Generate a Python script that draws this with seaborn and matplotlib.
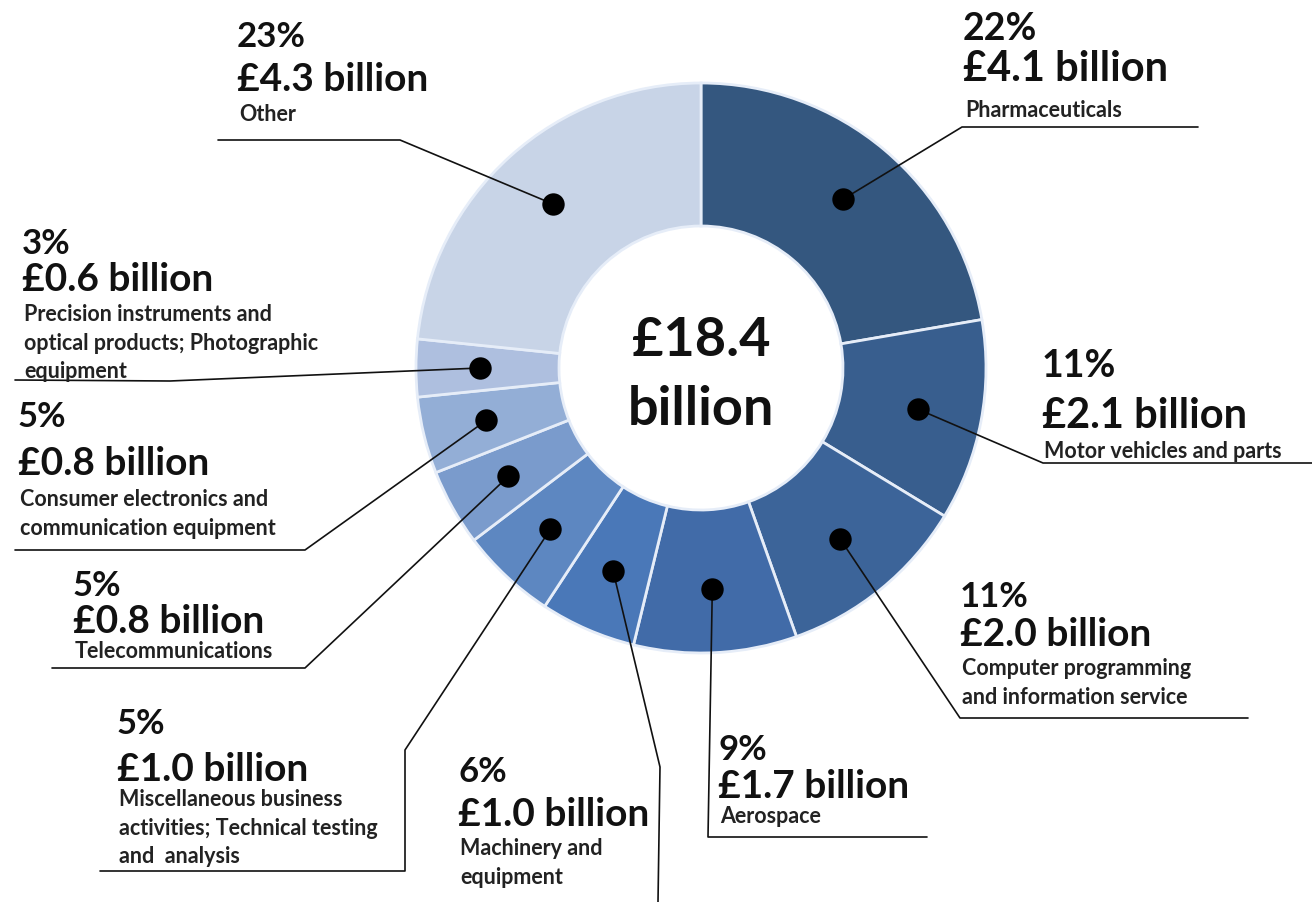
import numpy as np
import pandas as pd
import matplotlib
matplotlib.use("Agg")
import matplotlib.pyplot as plt
import seaborn as sns

# Data
sectors = ['Pharmaceuticals',
           'Motor vehicles and parts',
           'Computer programming\nand information service',
           'Aerospace',
           'Machinery and\nequipment',
           'Miscellaneous business\nactivities; Technical testing\nand  analysis',
           'Telecommunications',
           'Consumer electronics and\ncommunication equipment',
           'Precision instruments and\noptical products; Photographic\nequipment',
           'Other']
values = [4.1, 2.1, 2.0, 1.7, 1.0, 1.0, 0.8, 0.8, 0.6, 4.3]
percents = ['22%', '11%', '11%', '9%', '6%', '5%', '5%', '5%', '3%', '23%']
total_label = '£18.4\nbillion'

colors = ['#34577f', '#385e8e', '#3c6499', '#416ba8', '#4a78b8',
          '#5d87c1', '#7a9bcc', '#93aed6', '#aebfdf', '#c8d4e7']

# ---------------- LAYOUT (pixels) ----------------
W, H = 1312, 902
cx, cy = 701, 368
R_out, R_in = 285, 142

# x, top of pct line, top of value line, top of name line
label_xy = [(963, 12, 50, 100),
            (1042, 349, 397, 441),
            (960, 581, 617, 658),
            (718, 734, 769, 806),
            (458, 756, 797, 838),
            (117, 708, 752, 789),
            (73, 570, 604, 641),
            (18, 401, 446, 489),
            (22, 228, 262, 304),
            (237, 21, 62, 104)]
big_size = [30, 30, 28, 28, 28, 28, 28, 28, 28, 28]

# leader line path after the dot
leaders = [[(962, 127), (1198, 127)],
           [(1043, 463), (1312, 463)],
           [(960, 718), (1248, 718)],
           [(708, 837), (927, 837)],
           [(660, 767), (658, 902)],
           [(405, 750), (405, 871), (100, 871)],
           [(305, 668), (52, 668)],
           [(305, 550), (15, 550)],
           [(170, 381), (15, 380)],
           [(400, 140), (218, 140)]]

sns.set_theme(style="white")
plt.rcParams['font.family'] = ['Lato', 'DejaVu Sans']

fig = plt.figure(figsize=(W / 100, H / 100), dpi=100)
ax = fig.add_axes([0, 0, 1, 1])

palette = sns.color_palette(colors)

# y axis is inverted, so counterclock in data = clockwise on screen
wedges, _ = ax.pie(values, colors=palette, startangle=-90, counterclock=True,
                   radius=R_out, center=(cx, cy),
                   wedgeprops=dict(width=R_out - R_in, edgecolor='#e6edf8',
                                   linewidth=2))

# dots at slice mid angles
frac = np.array(values) / sum(values)
mid = np.cumsum(frac) - frac / 2
theta = np.deg2rad(-90 + 360 * mid)
r_dot = 0.775 * R_out
dots = pd.DataFrame({'x': cx + r_dot * np.cos(theta),
                     'y': cy + r_dot * np.sin(theta)})

# leader lines
for i in range(len(values)):
    pts = [(dots.x[i], dots.y[i])] + leaders[i]
    xs, ys = zip(*pts)
    ax.plot(xs, ys, color='#111111', lw=1.2, zorder=3)

sns.scatterplot(data=dots, x='x', y='y', s=260, color='black',
                edgecolor='black', linewidth=0, zorder=4, ax=ax, legend=False)
ax.set_xlim(0, W)
ax.set_ylim(H, 0)
ax.set_aspect('equal')
ax.axis('off')

# labels
for i in range(len(values)):
    x, y_pct, y_val, y_name = label_xy[i]
    ax.text(x, y_pct, percents[i], fontsize=big_size[i] - 3,
            fontweight='bold', va='top', ha='left', color='#111111')
    ax.text(x, y_val, '£%.1f billion' % values[i], fontsize=big_size[i],
            fontweight='bold', va='top', ha='left', color='#111111')
    ax.text(x + 2, y_name, sectors[i], fontsize=15.5, fontweight='bold',
            va='top', ha='left', color='#222222', linespacing=1.45)

# centre total
lines = total_label.split('\n')
ax.text(cx, 356, lines[0], fontsize=39, fontweight='bold',
        ha='center', va='baseline', color='#111111')
ax.text(cx, 425, lines[1], fontsize=39, fontweight='bold',
        ha='center', va='baseline', color='#111111')

plt.savefig('out.png', dpi=100)
